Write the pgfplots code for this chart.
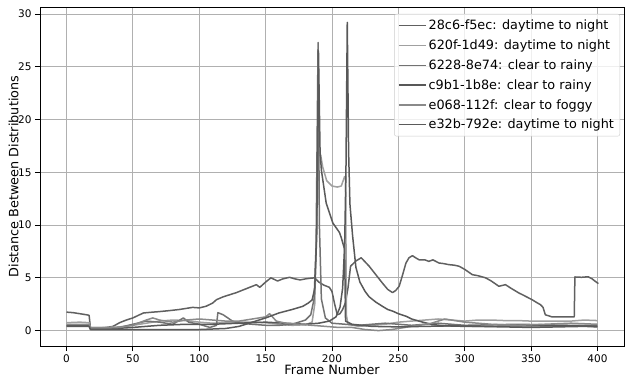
\documentclass[border=0pt]{standalone}
\usepackage{pgfplots}
\pgfplotsset{compat=1.18}
\usepackage{fontspec}
\setmainfont{DejaVu Sans}
\definecolor{cA}{HTML}{606060}
\definecolor{cB}{HTML}{A0A0A0}
\definecolor{cC}{HTML}{727272}
\definecolor{cD}{HTML}{585858}
\definecolor{cE}{HTML}{8A8A8A}
\definecolor{cF}{HTML}{5A5A5A}
\definecolor{gridc}{HTML}{B0B0B0}
\begin{document}
\begin{tikzpicture}
\begin{axis}[
  scale only axis, width=584pt, height=339pt,
  xmin=-20, xmax=420, ymin=-1.46, ymax=30.66,
  xtick={0,50,...,400}, ytick={0,5,...,30},
  grid=major, major grid style={gridc, line width=0.9pt},
  tick align=outside, tick pos=left,
  major tick length=5pt,
  every tick/.style={black, line width=0.9pt},
  axis line style={black, line width=0.9pt},
  /pgf/number format/assume math mode=true,
  ticklabel style={font=\fontsize{10.5}{12}\selectfont},
  label style={font=\fontsize{12.8}{15}\selectfont},
  xlabel={Frame Number},
  ylabel={Distance Between Distributions},
  xlabel style={at={(axis description cs:0.5,-0.07)}, anchor=center},
  ylabel style={at={(axis description cs:-0.045,0.5)}, anchor=center},
  legend cell align=left,
  legend image code/.code={\draw[#1] (0pt,0pt) -- (27pt,0pt);},
  legend image post style={line width=1.5pt},
  legend style={at={(rel axis cs:1,1)}, anchor=north east, xshift=-4pt, yshift=-7pt,
    draw=black!20, rounded corners=2pt, fill=white, fill opacity=0.8, text opacity=1, draw opacity=1,
    font=\fontsize{12.8}{15}\selectfont, row sep=4.6pt, inner sep=3.8pt},
  every axis plot/.append style={line width=1.5pt, line join=round},
]
% 28c6-f5ec
\addplot[cA] coordinates {(0,1.75)(5,1.7)(10,1.6)(15,1.5)(17,1.45)(18,0.25)(25,0.25)(30,0.3)(35,0.4)(40,0.75)(45,1.0)(50,1.2)(55,1.5)(58,1.67)(65,1.75)(70,1.8)(78,1.9)(85,2.0)(90,2.1)(95,2.2)(100,2.15)(105,2.3)(110,2.6)(113,2.93)(118,3.2)(123,3.4)(128,3.6)(132,3.8)(136,4.0)(140,4.2)(143,4.35)(145.6,4.1)(150,4.6)(154,5.0)(159,4.7)(163,4.9)(168,5.05)(172,4.9)(176,4.8)(180,4.9)(183,4.95)(187,5.0)(190,4.6)(194,4.3)(198,4.1)(200,3.7)(202,2.5)(204,1.5)(206,1.6)(208,2.0)(210,2.6)(212,4.0)(214,6.1)(218,6.6)(222,6.9)(225,6.5)(228,6.1)(233,5.3)(238,4.5)(242,3.9)(245.6,3.6)(248,3.8)(250.6,4.2)(253,5.2)(255.7,6.4)(258,6.9)(260.6,7.1)(263,6.9)(265.7,6.7)(270,6.7)(273,6.56)(276,6.7)(280.7,6.4)(284,6.35)(288,6.25)(292,6.2)(295.7,6.1)(300,5.8)(305.7,5.3)(310,5.2)(315.7,5.0)(320,4.7)(325.7,4.2)(330.7,4.35)(335,4.0)(340.7,3.57)(345,3.3)(350.7,2.93)(355,2.6)(357,2.46)(359,2.2)(360.7,1.5)(365.7,1.3)(375,1.3)(382.5,1.3)(383,5.08)(388,5.05)(393,5.1)(396,4.9)(398,4.7)(400.7,4.45)};
\addlegendentry{28c6-f5ec: daytime to night}
% 620f-1d49
\addplot[cB] coordinates {(0,0.75)(10,0.8)(17,0.75)(18,0.3)(30,0.3)(40,0.35)(50,0.5)(60,0.7)(70,0.9)(80,1.0)(90,0.95)(100,0.8)(110,0.7)(120,0.75)(130,0.8)(140,0.8)(150,0.75)(160,0.6)(170,0.5)(180,0.55)(185,0.8)(187,2.5)(188.5,10)(190,16.65)(191.5,16.6)(193,15.5)(196,14.2)(200,13.7)(204,13.6)(207,13.7)(209.5,14.6)(210.3,14.6)(210.8,1.5)(212,0.6)(220,0.4)(230,0.5)(240,0.6)(250,0.8)(260,0.9)(270,1.0)(280,1.1)(290,1.0)(300,0.9)(310,1.0)(320,1.0)(330,0.95)(340,0.95)(350,0.9)(360,0.9)(370,0.9)(380,0.9)(390,1.0)(400,0.95)};
\addlegendentry{620f-1d49: daytime to night}
% 6228-8e74
\addplot[cC] coordinates {(0,0.5)(10,0.5)(17,0.5)(18,0.2)(30,0.2)(40,0.3)(50,0.6)(60,0.9)(70,0.8)(80,0.6)(88,1.2)(92,0.8)(100,0.6)(108,0.3)(113,0.5)(114,1.7)(118,1.5)(125,0.9)(130,0.7)(140,0.6)(150,0.5)(160,0.5)(170,0.6)(175,0.8)(180,1.0)(184,1.5)(186.5,3)(188,8)(189.5,27.3)(190.5,10)(192,3)(195,1.2)(200,0.7)(210,0.6)(220,0.5)(230,0.6)(240,0.7)(250,0.6)(260,0.5)(270,0.6)(280,0.7)(290,0.6)(300,0.5)(320,0.55)(340,0.6)(360,0.55)(380,0.5)(400,0.5)};
\addlegendentry{6228-8e74: clear to rainy}
% c9b1-1b8e
\addplot[cD] coordinates {(0,0.45)(17,0.45)(18,0.15)(30,0.15)(50,0.3)(70,0.5)(90,0.6)(110,0.6)(130,0.7)(150,0.8)(165,0.7)(180,0.6)(190,0.7)(198,0.9)(203,1.3)(206,2.2)(208,4)(209.5,8)(210.5,15)(211.5,29.2)(212.5,17)(213.5,12)(215.5,9)(218,6)(221,4.6)(225,3.7)(228,3.2)(233,2.7)(238,2.3)(242,2.0)(246,1.83)(250,1.6)(256,1.35)(260,1.1)(266,0.88)(270,0.75)(276,0.57)(285,0.45)(300,0.4)(320,0.4)(340,0.45)(360,0.45)(380,0.45)(400,0.4)};
\addlegendentry{c9b1-1b8e: clear to rainy}
% e068-112f
\addplot[cE] coordinates {(0,0.6)(17,0.6)(18,0.25)(30,0.25)(40,0.3)(50,0.5)(60,1.0)(65,1.2)(70,1.0)(80,0.8)(90,1.0)(100,1.1)(110,1.0)(120,0.9)(130,0.9)(140,1.1)(150,1.3)(153,1.6)(158,0.9)(165,0.7)(175,0.6)(185,0.5)(195,0.4)(205,0.3)(215,0.3)(225,0.1)(235,0.0)(245,0.1)(255,0.3)(265,0.5)(275,0.7)(285,1.1)(290,1.0)(300,0.8)(310,0.7)(320,0.6)(340,0.5)(360,0.6)(380,0.7)(400,0.6)};
\addlegendentry{e068-112f: clear to foggy}
% e32b-792e
\addplot[cF] coordinates {(0,0.4)(17,0.4)(18,0.1)(40,0.1)(60,0.1)(80,0.1)(100,0.1)(120,0.2)(130,0.4)(140,0.8)(150,1.2)(160,1.67)(170,2.0)(178,2.3)(182,2.6)(185,2.9)(187,4)(188.5,9)(189.8,26.5)(191,17)(192,15.2)(195.6,12.1)(200.6,10.2)(205.6,9.3)(207,8.8)(209.5,7.7)(210.2,0.9)(215,0.6)(230,0.4)(250,0.35)(270,0.4)(290,0.45)(310,0.4)(330,0.35)(350,0.3)(370,0.35)(390,0.4)(400,0.35)};
\addlegendentry{e32b-792e: daytime to night}
\end{axis}
\pgfresetboundingbox
\path[use as bounding box] (current axis.south west) ++(-40pt,-32pt) rectangle ([xshift=1pt,yshift=7pt]current axis.north east);
\end{tikzpicture}
\end{document}
